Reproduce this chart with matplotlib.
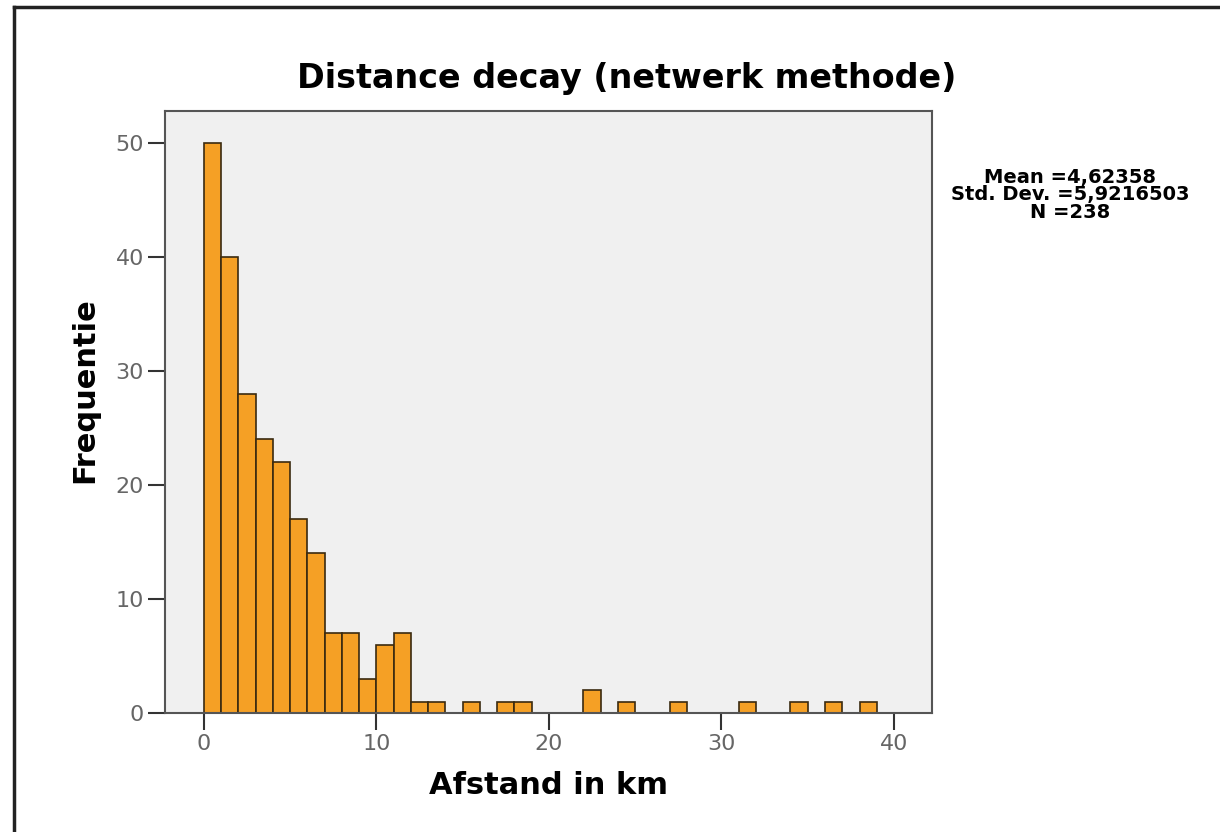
import matplotlib.pyplot as plt
from matplotlib.lines import Line2D

# histogram data (bin width 1 km, left edges)
bin_edges = list(range(0, 39))
counts = [50, 40, 28, 24, 22, 17, 14, 7, 7, 3, 6, 7, 1, 1, 0, 1, 0, 1, 1, 0,
          0, 0, 2, 0, 1, 0, 0, 1, 0, 0, 0, 1, 0, 0, 1, 0, 1, 0, 1]
x_ticks = [0, 10, 20, 30, 40]
y_ticks = [0, 10, 20, 30, 40, 50]
stats_lines = ["Mean =4,62358", "Std. Dev. =5,9216503", "N =238"]

plt.rcParams['font.family'] = ['DejaVu Sans']

fig = plt.figure(figsize=(12.2, 8.32), dpi=100)
ax = fig.add_axes([0.1352, 0.1430, 0.6287, 0.7236])
ax.set_facecolor('#f0f0f0')

xs = [e for e, c in zip(bin_edges, counts) if c > 0]
hs = [c for c in counts if c > 0]
ax.bar(xs, hs, width=1, align='edge', color='#f5a025', edgecolor='#3a2a10', linewidth=1.2)

ax.set_xlim(-2.26, 42.2)
ax.set_ylim(0, 52.8)
ax.set_xticks(x_ticks)
ax.set_yticks(y_ticks)
ax.tick_params(direction='out', length=12, width=1.5, color='#333333', labelcolor='#666666',
               labelsize=16, pad=3)
for s in ax.spines.values():
    s.set_color('#555555')
    s.set_linewidth(1.5)

fig.text(0.514, 0.906, 'Distance decay (netwerk methode)', ha='center', va='center',
         fontsize=24, fontweight='bold')
ax.set_xlabel('Afstand in km', fontsize=22, fontweight='bold', labelpad=12)
ax.set_ylabel('Frequentie', fontsize=22, fontweight='bold')
ax.yaxis.set_label_coords(-0.085, 0.537)

# summary statistics box to the right of the plot
fig.text(0.877, 0.766, "\n".join(stats_lines), ha='center', va='center', fontsize=14,
         fontweight='bold', linespacing=0.9)

# outer frame (left and top edges visible)
fig.add_artist(Line2D([0.0115, 0.0115], [0.0, 0.9916], color='#222222', linewidth=2.5))
fig.add_artist(Line2D([0.0115, 1.0], [0.9916, 0.9916], color='#222222', linewidth=2.5))

fig.savefig('out.png', dpi=100)
